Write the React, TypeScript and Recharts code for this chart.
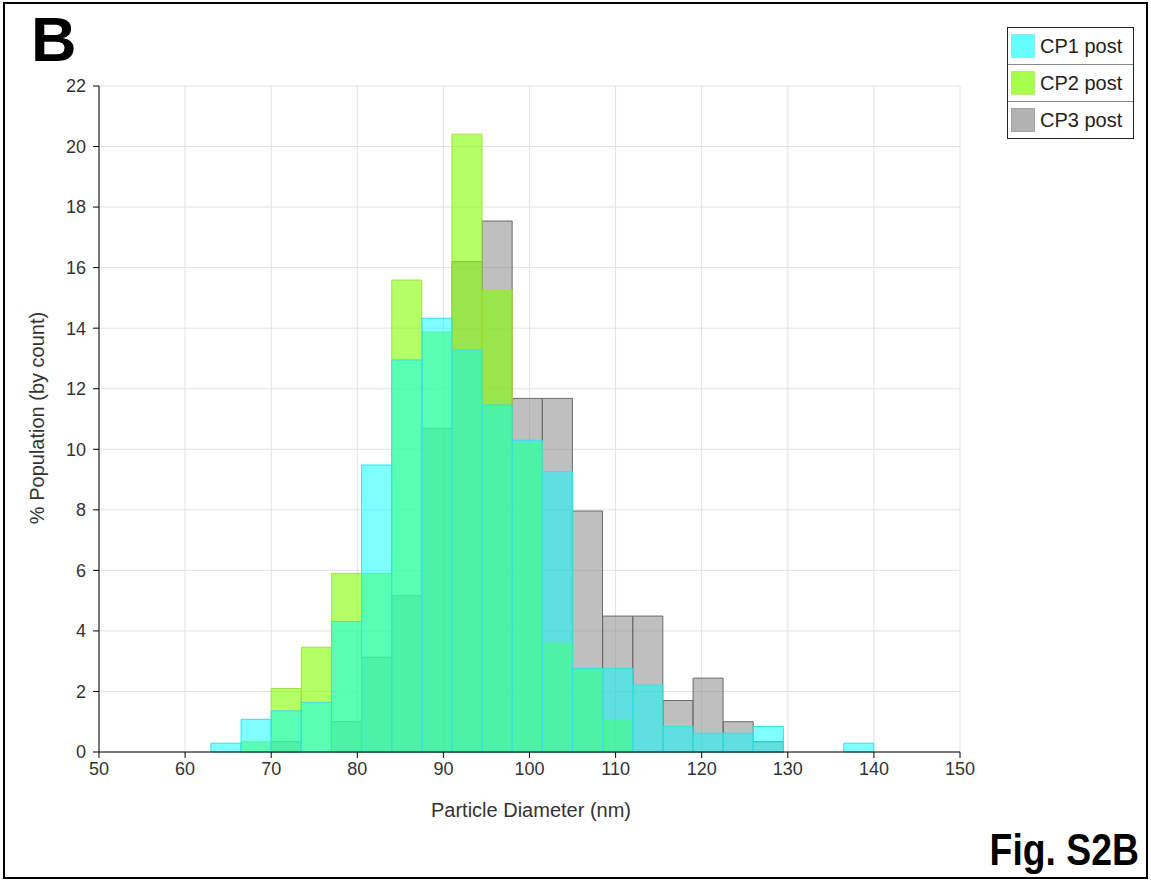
import React from 'react';
import { ComposedChart, Bar, XAxis, YAxis, CartesianGrid, Legend } from 'recharts';

// Histogram bins (nm): lower edge of each bin, bin width 3.5 nm
const binStarts = [63, 66.5, 70, 73.5, 77, 80.5, 84, 87.5, 91, 94.5, 98, 101.5, 105, 108.5, 112, 115.5, 119, 122.5, 126, 129.5, 133, 136.5];
const binWidth = 3.5;

// % Population (by count) per bin
const cp1Post = [0.29, 1.08, 1.36, 1.64, 4.31, 9.48, 12.95, 14.33, 13.28, 11.46, 10.3, 9.26, 2.76, 2.76, 2.21, 0.84, 0.62, 0.62, 0.84, 0, 0, 0.29];
const cp2Post = [0, 0.34, 2.1, 3.46, 5.9, 5.9, 15.59, 13.87, 20.41, 15.26, 10.2, 3.6, 2.76, 1.06, 0, 0, 0, 0, 0, 0, 0, 0];
const cp3Post = [0, 0, 0.34, 0, 1.0, 3.13, 5.16, 10.69, 16.2, 17.54, 11.68, 11.68, 7.96, 4.49, 4.49, 1.7, 2.44, 1.0, 0.34, 0, 0, 0];

const xTicks = [50, 60, 70, 80, 90, 100, 110, 120, 130, 140, 150];
const yTicks = [0, 2, 4, 6, 8, 10, 12, 14, 16, 18, 20, 22];

const seriesNames = ['CP1 post', 'CP2 post', 'CP3 post'];
const seriesKeys = ['cp1', 'cp2', 'cp3'];
const seriesFill = ['#00FFFF', '#7FFF00', '#808080'];
const seriesOpacity = [0.5, 0.6, 0.5];
const seriesStroke = ['#38E0E0', '#A6E040', '#6A6A6A'];
const seriesAxis = ['a', 'b', 'c'];

const data = binStarts.map((s, i) => ({
  center: s + binWidth / 2,
  cp1: cp1Post[i] > 0 ? cp1Post[i] : null,
  cp2: cp2Post[i] > 0 ? cp2Post[i] : null,
  cp3: cp3Post[i] > 0 ? cp3Post[i] : null,
}));

const FONT = '"Liberation Sans", Arial, sans-serif';

const renderLegend = (props: any) => {
  const items = [...(props.payload || [])].sort((a: any, b: any) =>
    String(a.value).localeCompare(String(b.value))
  );
  return (
    <div style={{ border: '1.5px solid #222', background: '#fff', width: 127, fontFamily: FONT, boxSizing: 'border-box' }}>
      {items.map((it: any, i: number) => {
        const idx = seriesNames.indexOf(String(it.value));
        return (
          <div
            key={String(it.value)}
            style={{
              display: 'flex',
              alignItems: 'center',
              height: 36,
              borderTop: i ? '1px solid #8a8a8a' : 'none',
              paddingLeft: 3,
            }}
          >
            <span
              style={{
                display: 'inline-block',
                width: 24,
                height: 24,
                boxSizing: 'border-box',
                background: seriesFill[idx],
                opacity: seriesOpacity[idx] + 0.1,
                border: `1px solid ${seriesStroke[idx]}`,
              }}
            />
            <span style={{ marginLeft: 5, fontSize: 20, color: '#222', whiteSpace: 'nowrap' }}>{it.value}</span>
          </div>
        );
      })}
    </div>
  );
};

export default function App() {
  const order = [2, 1, 0]; // CP3 bottom, CP2, CP1 on top
  return (
    <div style={{ position: 'absolute', left: 0, top: 0, width: 1151, height: 880, background: '#fff', fontFamily: FONT }}>
      <ComposedChart
        width={1151}
        height={880}
        data={data}
        margin={{ top: 86, right: 191, bottom: 0, left: 0 }}
        barCategoryGap={0}
        barGap={0}
      >
        <CartesianGrid xAxisId="a" stroke="#e2e2e2" strokeWidth={1} />
        <XAxis
          xAxisId="a"
          dataKey="center"
          type="number"
          domain={[50, 150]}
          ticks={xTicks}
          height={128}
          tickSize={6}
          tickMargin={4}
          axisLine={{ stroke: '#000', strokeWidth: 1 }}
          tickLine={{ stroke: '#000' }}
          tick={{ fill: '#333', fontSize: 18, fontFamily: FONT }}
          allowDecimals={false}
        />
        <XAxis xAxisId="b" dataKey="center" type="number" domain={[50, 150]} hide />
        <XAxis xAxisId="c" dataKey="center" type="number" domain={[50, 150]} hide />
        <YAxis
          type="number"
          domain={[0, 22]}
          ticks={yTicks}
          width={99}
          tickSize={6}
          tickMargin={7}
          axisLine={{ stroke: '#000', strokeWidth: 1 }}
          tickLine={{ stroke: '#000' }}
          tick={{ fill: '#333', fontSize: 18, fontFamily: FONT }}
        />
        {order.map((k) => (
          <Bar
            key={seriesKeys[k]}
            dataKey={seriesKeys[k]}
            name={seriesNames[k]}
            xAxisId={seriesAxis[k]}
            fill={seriesFill[k]}
            fillOpacity={seriesOpacity[k]}
            stroke={seriesStroke[k]}
            strokeWidth={1}
            isAnimationActive={false}
          />
        ))}
        <Legend
          layout="vertical"
          align="center"
          verticalAlign="middle"
          content={renderLegend}
          wrapperStyle={{ left: 1007, top: 27, width: 127, right: 'auto', bottom: 'auto' }}
        />
      </ComposedChart>

      {/* Axis titles */}
      <div
        style={{
          position: 'absolute',
          left: 37,
          top: 418,
          transform: 'translate(-50%, -50%) rotate(-90deg)',
          fontSize: 20,
          color: '#333',
          whiteSpace: 'nowrap',
        }}
      >
        % Population (by count)
      </div>
      <div
        style={{
          position: 'absolute',
          left: 531,
          top: 810,
          transform: 'translate(-50%, -50%)',
          fontSize: 20,
          color: '#333',
          whiteSpace: 'nowrap',
        }}
      >
        Particle Diameter (nm)
      </div>

      {/* Panel letter and figure label */}
      <div style={{ position: 'absolute', left: 31, top: 8, fontSize: 63, fontWeight: 'bold', color: '#000', lineHeight: 1 }}>B</div>
      <div
        style={{
          position: 'absolute',
          right: 1151 - 1139,
          top: 827,
          fontSize: 45,
          fontWeight: 'bold',
          color: '#000',
          lineHeight: 1,
          whiteSpace: 'nowrap',
          transform: 'scaleX(0.83)',
          transformOrigin: 'right center',
        }}
      >
        Fig. S2B
      </div>

      {/* Outer frame */}
      <div
        style={{
          position: 'absolute',
          left: 3,
          top: 2,
          width: 1145,
          height: 877,
          border: '2px solid #000',
          boxSizing: 'border-box',
          pointerEvents: 'none',
        }}
      />
    </div>
  );
}
